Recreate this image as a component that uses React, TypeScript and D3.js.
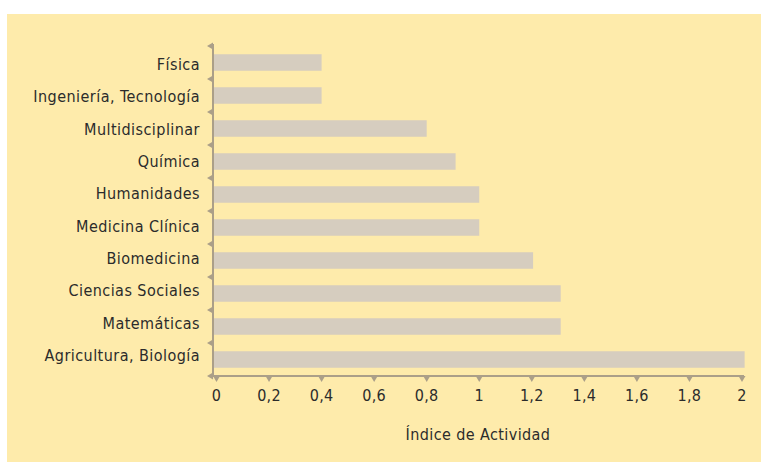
import React from "react";
import * as d3 from "d3";

const categories = [
  "Física",
  "Ingeniería, Tecnología",
  "Multidisciplinar",
  "Química",
  "Humanidades",
  "Medicina Clínica",
  "Biomedicina",
  "Ciencias Sociales",
  "Matemáticas",
  "Agricultura, Biología",
];
const values = [0.4, 0.4, 0.8, 0.91, 1.0, 1.0, 1.205, 1.31, 1.31, 2.01];
const xTicks = [0, 0.2, 0.4, 0.6, 0.8, 1, 1.2, 1.4, 1.6, 1.8, 2];
const xTitle = "Índice de Actividad";

const W = 761;
const H = 462;
const FONT = "'DejaVu Sans Condensed', 'Liberation Sans Narrow', sans-serif";
const AXIS = "#ab9f88";

export default function App() {
  const axisX = 213;
  const x = d3.scaleLinear().domain([0, 2]).range([216.5, 742]);
  const y = d3.scaleBand<string>().domain(categories).range([46, 376]).paddingInner(0.5).paddingOuter(0.25);
  const band = d3.scaleBand<string>().domain(categories).range([46, 376]);
  const labelY = d3.scalePoint<string>().domain(categories).range([70, 361]);
  const fmt = (v: number) => String(v).replace(".", ",");
  const bounds = [...categories.map((c) => band(c) as number), 376];
  return (
    <svg width={W} height={H} style={{ position: "absolute", left: 0, top: 0 }} fontFamily={FONT}>
      <rect x={7} y={14} width={W - 7} height={H - 14} fill="#feebab" />
      {categories.map((c, i) => (
        <rect key={c} x={axisX + 1} y={y(c)} width={x(values[i]) - axisX - 1} height={y.bandwidth()} fill="#d6cdbf" />
      ))}
      <line x1={axisX} x2={axisX} y1={44} y2={376} stroke={AXIS} strokeWidth={2} />
      <line x1={axisX} x2={744} y1={376} y2={376} stroke={AXIS} strokeWidth={2} />
      {bounds.map((b, i) => (
        <path key={"yt" + i} d={`M${axisX},${b - 3.5} L${axisX - 6},${b} L${axisX},${b + 3.5} Z`} fill={AXIS} />
      ))}
      {xTicks.map((t) => (
        <path key={"xt" + t} d={`M${x(t) - 3.5},${376} L${x(t)},${382} L${x(t) + 3.5},${376} Z`} fill={AXIS} />
      ))}
      {categories.map((c) => (
        <text key={"l" + c} x={200} y={labelY(c)} textAnchor="end" fontSize={16} letterSpacing={0.45} fill="#2b2b2b">
          {c}
        </text>
      ))}
      {xTicks.map((t) => (
        <text key={"xl" + t} x={x(t)} y={401} textAnchor="middle" fontSize={16} letterSpacing={0.3} fill="#2b2b2b">
          {fmt(t)}
        </text>
      ))}
      <text x={478} y={440} textAnchor="middle" fontSize={16} letterSpacing={0.4} fill="#2b2b2b">
        {xTitle}
      </text>
    </svg>
  );
}
